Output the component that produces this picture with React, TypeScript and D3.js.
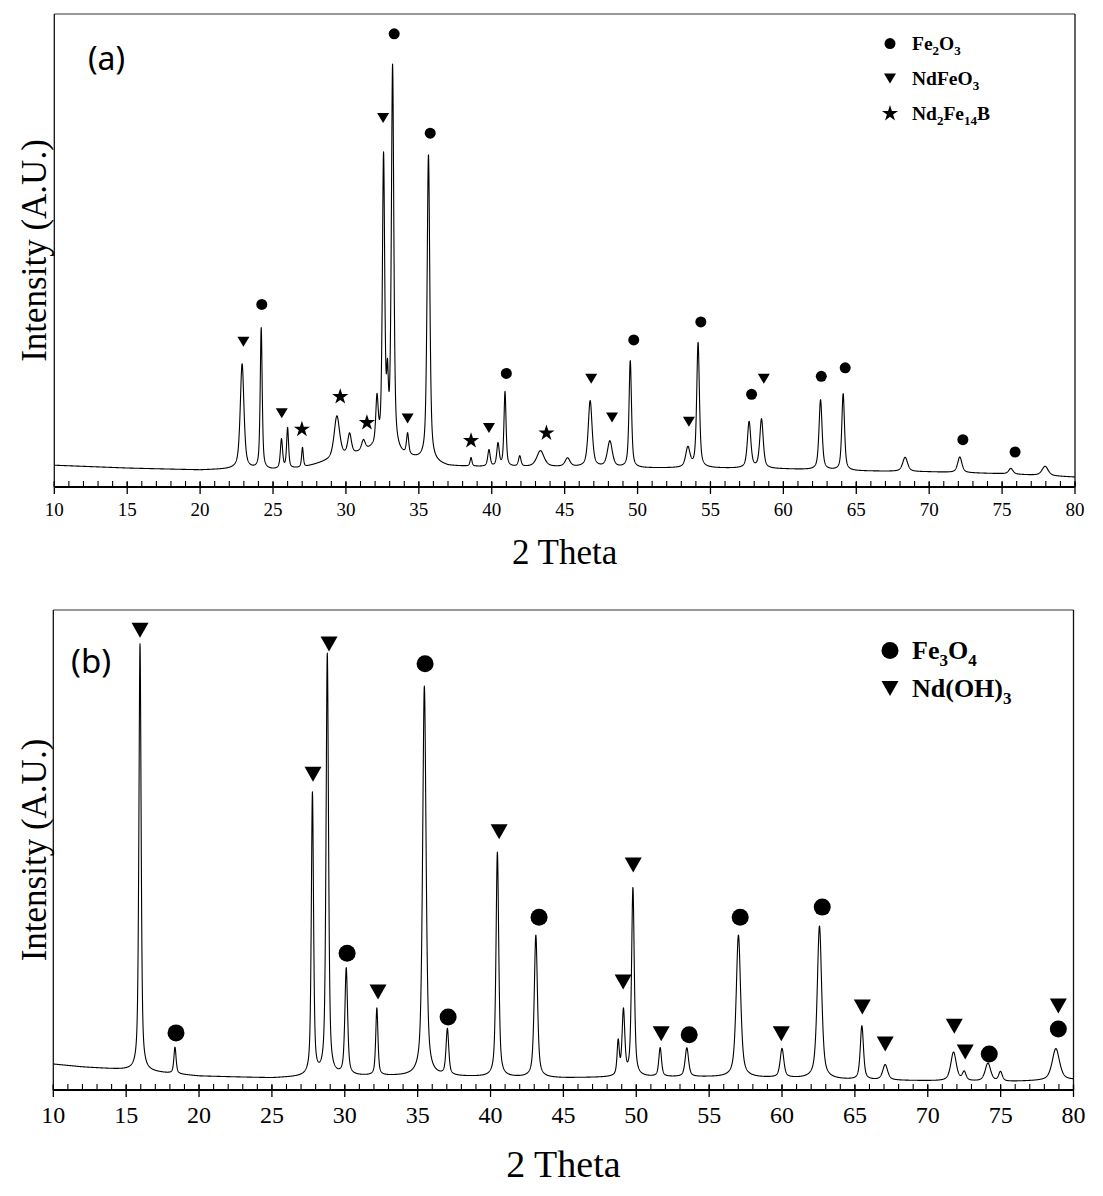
import React from 'react';
import * as d3 from 'd3';

// 2θ axis ticks (degrees)
const majorTicks = [10, 15, 20, 25, 30, 35, 40, 45, 50, 55, 60, 65, 70, 75, 80];
const minorTicks = d3.range(10, 81, 1);

// ---------- Pattern (a): Fe2O3 / NdFeO3 / Nd2Fe14B ----------
const bgThetaA = [10, 15, 20, 22.5, 25, 27, 28.5, 30.5, 31.8, 33.5, 35, 37, 40, 45, 50, 55, 60, 65, 70, 75, 80];
const bgLevelA = [46, 40, 36, 38, 36, 40, 52, 67, 78, 67, 57, 44, 42, 42, 40, 40, 38, 34, 32, 28, 21];

const peakPosA = [22.88, 24.19, 25.58, 26.0, 27.02, 29.38, 30.25, 31.2, 32.13, 32.58, 32.85, 33.2, 34.23, 35.66, 38.58, 39.81, 40.43, 40.91, 41.92, 43.34, 45.2, 46.75, 48.1, 49.5, 53.45, 54.15, 57.65, 58.5, 62.55, 64.1, 68.35, 72.1, 75.6, 77.95];
const peakHeightA = [222, 298, 62, 85, 42, 90, 44, 22, 100, 615, 120, 812, 44, 648, 18, 35, 48, 158, 22, 34, 18, 140, 55, 226, 42, 264, 98, 104, 148, 162, 30, 33, 12, 20];
const peakWidthA = [0.30, 0.16, 0.18, 0.16, 0.14, 0.45, 0.30, 0.30, 0.20, 0.19, 0.14, 0.20, 0.18, 0.22, 0.15, 0.20, 0.20, 0.17, 0.20, 0.60, 0.40, 0.32, 0.40, 0.20, 0.35, 0.22, 0.28, 0.28, 0.25, 0.22, 0.40, 0.35, 0.35, 0.50];

const fe2o3Theta = [24.23, 33.31, 35.78, 41.0, 49.74, 54.34, 57.82, 62.6, 64.24, 72.31, 75.89];
const fe2o3Level = [386, 958, 748, 240, 311, 349, 196, 234, 252, 100, 74];
const ndfeo3Theta = [22.97, 25.6, 32.55, 34.23, 39.81, 46.82, 48.25, 53.52, 58.66];
const ndfeo3Level = [307, 156, 780, 145, 125, 229, 147, 138, 229];
const nd2fe14bTheta = [26.98, 29.61, 31.44, 38.58, 43.75];
const nd2fe14bLevel = [122, 191, 136, 98, 114];

// ---------- Pattern (b): Fe3O4 / Nd(OH)3 ----------
const bgThetaB = [10, 12, 15, 17, 20, 25, 27, 30, 35, 40, 45, 50, 55, 60, 65, 70, 75, 80];
const bgLevelB = [54, 48, 42, 37, 29, 25, 27, 29, 29, 27, 25, 27, 27, 25, 21, 19, 17, 21];

const peakPosB = [15.95, 18.35, 27.78, 28.8, 30.1, 32.2, 35.46, 37.04, 40.47, 43.11, 48.76, 49.12, 49.77, 51.64, 53.47, 57.01, 60.0, 62.57, 65.48, 67.08, 71.77, 72.5, 74.13, 74.99, 78.79];
const peakHeightB = [890, 55, 588, 878, 222, 140, 812, 96, 468, 296, 70, 135, 392, 60, 60, 296, 60, 318, 112, 32, 60, 18, 38, 20, 66];
const peakWidthB = [0.18, 0.18, 0.18, 0.20, 0.22, 0.18, 0.28, 0.22, 0.22, 0.26, 0.18, 0.22, 0.22, 0.22, 0.28, 0.36, 0.30, 0.36, 0.26, 0.40, 0.45, 0.30, 0.45, 0.30, 0.60];

const fe3o4Theta = [18.42, 30.16, 35.51, 37.09, 43.33, 53.63, 57.13, 62.76, 74.22, 78.96];
const fe3o4Level = [119, 285, 888, 152, 360, 115, 360, 381, 75, 127];
const ndoh3Theta = [15.95, 27.82, 28.92, 32.28, 40.59, 49.1, 49.79, 51.71, 59.95, 65.51, 67.08, 71.82, 72.57, 78.96];
const ndoh3Level = [958, 658, 929, 204, 538, 225, 469, 117, 117, 173, 96, 133, 79, 175];

const SERIF = '"Liberation Serif", "Times New Roman", serif';
const SANS = '"Noto Sans", "DejaVu Sans", sans-serif';

// pseudo-Voigt peak shape
function peakShape(t: number, c: number, h: number, w: number) {
  const x = (t - c) / (w / 2);
  return h * (0.6 / (1 + x * x) + 0.4 * Math.exp(-Math.LN2 * x * x));
}

type Part = { text: string; sub?: boolean };

function Formula({ x, y, parts, size }: { x: number; y: number; parts: Part[]; size: number }) {
  const sub = Math.round(size * 0.66);
  const shift = size * 0.28;
  let prevSub = false;
  return (
    <text x={x} y={y} fontFamily={SERIF} fontWeight="bold" fontSize={size} fill="#000">
      {parts.map((p, i) => {
        const dy = p.sub && !prevSub ? shift : !p.sub && prevSub ? -shift : 0;
        prevSub = !!p.sub;
        return (
          <tspan key={i} dy={dy} fontSize={p.sub ? sub : size}>
            {p.text}
          </tspan>
        );
      })}
    </text>
  );
}

function triangle(cx: number, cy: number, w: number, h: number) {
  return `M${cx - w / 2},${cy - h / 2}L${cx + w / 2},${cy - h / 2}L${cx},${cy + h / 2}Z`;
}

type Series = { theta: number[]; level: number[]; kind: 'circle' | 'tri' | 'star' };
type LegendItem = { kind: 'circle' | 'tri' | 'star'; parts: Part[] };

type PanelProps = {
  left: number; right: number; top: number; bottom: number;
  tag: string; tagX: number; tagY: number; tagSize: number;
  bgTheta: number[]; bgLevel: number[];
  peakPos: number[]; peakHeight: number[]; peakWidth: number[];
  series: Series[];
  legend: LegendItem[]; legendX: number; legendY: number; legendGap: number; legendSize: number;
  circleR: number; triW: number; triH: number; starR: number;
  tickSize: number; tickLabelY: number;
  xTitleSize: number; xTitleY: number;
  yTitleSize: number; yTitleX: number;
};

function Panel(p: PanelProps) {
  const x = d3.scaleLinear().domain([10, 80]).range([p.left, p.right]);
  const y = d3.scaleLinear().domain([0, 1000]).range([p.bottom, p.top]);
  const bg = d3.scaleLinear().domain(p.bgTheta).range(p.bgLevel);

  const grid = d3.range(10, 80.0001, 0.01);
  const profile = grid.map((t) => {
    let v = bg(t);
    for (let i = 0; i < p.peakPos.length; i++) v += peakShape(t, p.peakPos[i], p.peakHeight[i], p.peakWidth[i]);
    return [t, v] as [number, number];
  });
  const line = d3.line<[number, number]>().x((d) => x(d[0])).y((d) => y(d[1]));

  const star = d3.symbol(d3.symbolStar, (p.starR * p.starR) / 0.8908130915292852);

  const marker = (kind: string, cx: number, cy: number, key: string | number) => {
    if (kind === 'circle') return <circle key={key} cx={cx} cy={cy} r={p.circleR} fill="#000" />;
    if (kind === 'tri') return <path key={key} d={triangle(cx, cy, p.triW, p.triH)} fill="#000" />;
    return <path key={key} d={star() || ''} transform={`translate(${cx},${cy})`} fill="#000" />;
  };

  const midY = (p.top + p.bottom) / 2;
  const midX = (p.left + p.right) / 2;

  return (
    <g>
      {/* frame */}
      <line x1={p.left} x2={p.right} y1={p.top} y2={p.top} stroke="#333" strokeWidth={1.2} />
      <line x1={p.left} x2={p.left} y1={p.top} y2={p.bottom} stroke="#111" strokeWidth={1.3} />
      <line x1={p.right} x2={p.right} y1={p.top} y2={p.bottom} stroke="#111" strokeWidth={1.3} />
      <line x1={p.left} x2={p.right} y1={p.bottom} y2={p.bottom} stroke="#000" strokeWidth={1.8} />

      {/* ticks */}
      {minorTicks.map((t) => (
        <line key={'m' + t} x1={x(t)} x2={x(t)} y1={p.bottom - 6} y2={p.bottom} stroke="#000" strokeWidth={1.1} />
      ))}
      {majorTicks.map((t) => (
        <line key={'M' + t} x1={x(t)} x2={x(t)} y1={p.bottom - 5} y2={p.bottom + 7} stroke="#000" strokeWidth={1.3} />
      ))}
      {majorTicks.map((t) => (
        <text key={'L' + t} x={x(t)} y={p.tickLabelY} textAnchor="middle" fontFamily={SERIF} fontSize={p.tickSize} fill="#000">
          {t}
        </text>
      ))}

      {/* titles */}
      <text x={midX} y={p.xTitleY} textAnchor="middle" fontFamily={SERIF} fontSize={p.xTitleSize} fill="#000">
        2 Theta
      </text>
      <text
        transform={`translate(${p.yTitleX},${midY}) rotate(-90)`}
        textAnchor="middle"
        fontFamily={SERIF}
        fontSize={p.yTitleSize}
        fill="#000"
      >
        Intensity (A.U.)
      </text>
      <text x={p.tagX} y={p.tagY} fontFamily={SANS} fontSize={p.tagSize} fill="#000">
        {p.tag}
      </text>

      {/* diffraction pattern */}
      <path d={line(profile) || ''} fill="none" stroke="#000" strokeWidth={1.1} strokeLinejoin="round" />

      {/* phase markers */}
      {p.series.map((s, si) =>
        s.theta.map((t, i) => marker(s.kind, x(t), y(s.level[i]), `${si}-${i}`))
      )}

      {/* legend */}
      {p.legend.map((item, i) => {
        const ly = p.legendY + i * p.legendGap;
        return (
          <g key={'lg' + i}>
            {marker(item.kind, p.legendX, ly - p.legendSize * 0.33, 'lm' + i)}
            <Formula x={p.legendX + 22} y={ly} parts={item.parts} size={p.legendSize} />
          </g>
        );
      })}
    </g>
  );
}

export default function App() {
  return (
    <svg width={1103} height={1196} style={{ position: 'absolute', left: 0, top: 0, background: '#fff' }}>
      <rect x={0} y={0} width={1103} height={1196} fill="#fff" />
      <Panel
        left={54.3} right={1075} top={14} bottom={487}
        tag="(a)" tagX={88} tagY={70} tagSize={32}
        bgTheta={bgThetaA} bgLevel={bgLevelA}
        peakPos={peakPosA} peakHeight={peakHeightA} peakWidth={peakWidthA}
        series={[
          { theta: fe2o3Theta, level: fe2o3Level, kind: 'circle' },
          { theta: ndfeo3Theta, level: ndfeo3Level, kind: 'tri' },
          { theta: nd2fe14bTheta, level: nd2fe14bLevel, kind: 'star' },
        ]}
        legend={[
          { kind: 'circle', parts: [{ text: 'Fe' }, { text: '2', sub: true }, { text: 'O' }, { text: '3', sub: true }] },
          { kind: 'tri', parts: [{ text: 'NdFeO' }, { text: '3', sub: true }] },
          { kind: 'star', parts: [{ text: 'Nd' }, { text: '2', sub: true }, { text: 'Fe' }, { text: '14', sub: true }, { text: 'B' }] },
        ]}
        legendX={890} legendY={50} legendGap={35} legendSize={19.5}
        circleR={5.5} triW={12} triH={10} starR={8.5}
        tickSize={19} tickLabelY={516}
        xTitleSize={35} xTitleY={564}
        yTitleSize={35} yTitleX={46}
      />
      <Panel
        left={53.3} right={1073.5} top={610} bottom={1090}
        tag="(b)" tagX={71} tagY={673} tagSize={33}
        bgTheta={bgThetaB} bgLevel={bgLevelB}
        peakPos={peakPosB} peakHeight={peakHeightB} peakWidth={peakWidthB}
        series={[
          { theta: fe3o4Theta, level: fe3o4Level, kind: 'circle' },
          { theta: ndoh3Theta, level: ndoh3Level, kind: 'tri' },
        ]}
        legend={[
          { kind: 'circle', parts: [{ text: 'Fe' }, { text: '3', sub: true }, { text: 'O' }, { text: '4', sub: true }] },
          { kind: 'tri', parts: [{ text: 'Nd(OH)' }, { text: '3', sub: true }] },
        ]}
        legendX={890} legendY={659} legendGap={38} legendSize={26}
        circleR={8.5} triW={17} triH={15} starR={8}
        tickSize={24} tickLabelY={1123}
        xTitleSize={38} xTitleY={1177}
        yTitleSize={35} yTitleX={46}
      />
    </svg>
  );
}
